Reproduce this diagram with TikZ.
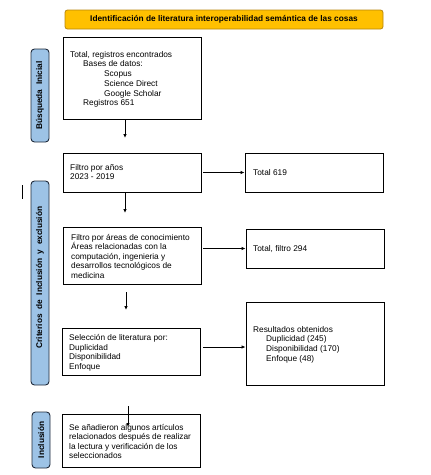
\documentclass[tikz,border=0pt]{standalone}
\usepackage{fontspec}
\setmainfont{Liberation Sans}
\usetikzlibrary{arrows.meta}
\definecolor{titleorange}{HTML}{FFC000}
\definecolor{titleedge}{HTML}{B8860B}
\definecolor{sideblue}{HTML}{9DC3E6}
\definecolor{sideedge}{HTML}{1F2A3A}
\begin{document}
\begin{tikzpicture}[x=1pt,y=-1pt,
  box/.style={draw=black,line width=0.9pt,rectangle,inner sep=0pt,minimum width=138pt},
  txt/.style={anchor=north west,inner sep=0pt,align=left,font=\fontsize{8.3}{9.7}\selectfont},
  arr/.style={-{Latex[length=4pt,width=3.5pt]},line width=0.8pt},
  side/.style={draw=sideedge,fill=sideblue,rounded corners=3.5pt,line width=0.9pt,inner sep=0pt,
    rotate=90,minimum height=18pt,font=\bfseries\fontsize{8.3}{9}\selectfont},
  titlebox/.style={draw=titleedge,fill=titleorange,rounded corners=2.5pt,line width=0.8pt,inner sep=0pt,
    minimum width=318pt,minimum height=19pt,font=\bfseries\fontsize{8.3}{9}\selectfont}]
\useasboundingbox (0,0) rectangle (431,475);

% title
\node[titlebox] (title) at (224,19.5) {Identificación de literatura interoperabilidad semántica de las cosas};

% side labels
\node[side,minimum width=93pt] (s1) at (40,95.5) {Búsqueda\ \ Inicial};
\node[side,minimum width=204pt] (s2) at (40,283) {\hspace*{11pt}Criterios\ \ de\ \ Inclusión\ \ y\ \ exclusión};
\node[side,minimum width=56pt] (s3) at (41,440) {Inclusión};
\draw[line width=0.8pt] (22,185) -- (22,199);

% boxes
\node[box,minimum height=82pt] (b1) at (132,78) {};
\node[box,minimum height=39pt] (b2) at (132,172.5) {};
\node[box,minimum height=39pt] (b3) at (314,172.5) {};
\node[box,minimum height=57pt] (b4) at (132,255.5) {};
\node[box,minimum height=39pt] (b5) at (315,248.5) {};
\node[box,minimum height=47pt] (b6) at (131,351.5) {};
\node[box,minimum height=83pt] (b7) at (315,343.5) {};
\node[box,minimum height=53pt] (b8) at (131,440.5) {};

% texts
\node[txt] (t1) at (70,51) {Total, registros encontrados\\
\hspace*{13pt}Bases de datos:\\
\hspace*{34pt}Scopus\\
\hspace*{34pt}Science Direct\\
\hspace*{34pt}Google Scholar\\
\hspace*{13pt}Registros 651};
\node[txt] (t2) at (70,164) {Filtro por años\\2023 - 2019};
\node[txt] (t3) at (253,169) {Total 619};
\node[txt,font=\fontsize{8.3}{9.5}\selectfont] (t4) at (71,234) {Filtro por áreas de conocimiento\\Áreas relacionadas con la\\computación, ingenieria y\\desarrollos tecnológicos de\\medicina};
\node[txt] (t5) at (253,245) {Total, filtro 294};
\node[txt,font=\fontsize{8.3}{9.7}\selectfont] (t6) at (69,334) {Selección de literatura por:\\Duplicidad\\Disponibilidad\\Enfoque};
\node[txt,font=\fontsize{8.3}{9.7}\selectfont] (t7) at (253,326) {Resultados obtenidos\\
\hspace*{13pt}Duplicidad (245)\\
\hspace*{13pt}Disponibilidad (170)\\
\hspace*{13pt}Enfoque (48)};
\node[txt,font=\fontsize{8.3}{9.5}\selectfont] (t8) at (69,424) {Se añadieron algunos artículos\\relacionados después de realizar\\la lectura y verificación de los\\seleccionados};

% connector end points
\coordinate (a1) at (125,138);
\coordinate (a2) at (125,213);
\coordinate (a3s) at (126,292);
\coordinate (a3) at (126,310);
\coordinate (a4s) at (128,406);
\coordinate (a4) at (128,427);
\coordinate (r3) at (0,347);

% connectors
\draw[arr] (b1.south -| a1) -- (a1);
\draw[arr] (b2.south -| a2) -- (a2);
\draw[arr] (a3s) -- (a3);
\draw[arr] (a4s) -- (a4);
\draw[arr,shorten <=2pt] (b2.east) -- (b3.west);
\draw[arr,shorten <=2pt] (b4.east |- b5.west) -- (b5.west);
\draw[arr,shorten <=3pt] (b6.east |- r3) -- (b7.west |- r3);
\end{tikzpicture}
\end{document}
